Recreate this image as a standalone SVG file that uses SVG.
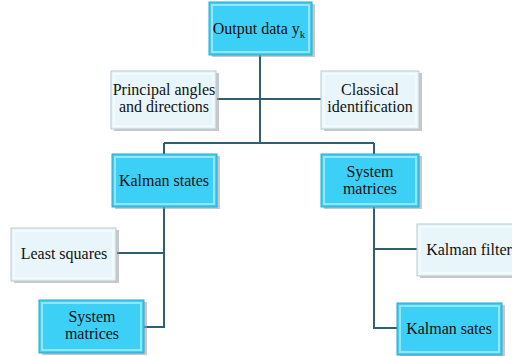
<svg xmlns="http://www.w3.org/2000/svg" width="512" height="356" viewBox="0 0 512 356">
<style>
.dark{fill:#3dd0f7;stroke:#2aa5cc;stroke-width:1}
.light{fill:#e8f6fb;stroke:#b9c9cf;stroke-width:1}
.bev{fill:none;stroke:#ffffff;stroke-opacity:0.45;stroke-width:2}
.sh{fill:#9a9a9a;opacity:0.55}
.t{font-family:'Liberation Serif',serif;font-size:16px;fill:#111;text-anchor:middle}
.conn{fill:none;stroke:#2f5f70;stroke-width:2}
</style>
<g id="connectors">
<path class="conn" d="M260 55V143M217 99H322M164 143H374M164 143V154M374 143V154M164 207V327H144M164 253H117M374 207V328H397M374 249H417"/>
</g>
<g id="n-output"><rect class="sh" x="212" y="4" width="103" height="53"/><rect class="dark" x="209" y="2" width="103" height="53"/><rect class="bev" x="212" y="5" width="97" height="47"/><text class="t" font-family="Liberation Serif" x="259" y="34">Output data y<tspan font-size="11" dy="4">k</tspan></text></g>
<g id="n-principal"><rect class="sh" x="114" y="73" width="105" height="58"/><rect class="light" x="111" y="71" width="105" height="58"/><rect class="bev" x="114" y="74" width="99" height="52"/><text class="t" font-family="Liberation Serif" x="164" y="95">Principal angles</text><text class="t" font-family="Liberation Serif" x="164" y="112">and directions</text></g>
<g id="n-classical"><rect class="sh" x="324" y="73" width="98" height="58"/><rect class="light" x="321" y="71" width="98" height="58"/><rect class="bev" x="324" y="74" width="92" height="52"/><text class="t" font-family="Liberation Serif" x="370" y="95">Classical</text><text class="t" font-family="Liberation Serif" x="370" y="112">identification</text></g>
<g id="n-kstates"><rect class="sh" x="115" y="156" width="105" height="53"/><rect class="dark" x="112" y="154" width="105" height="53"/><rect class="bev" x="115" y="157" width="99" height="47"/><text class="t" font-family="Liberation Serif" x="164" y="186">Kalman states</text></g>
<g id="n-sysmat1"><rect class="sh" x="324" y="156" width="98" height="53"/><rect class="dark" x="321" y="154" width="98" height="53"/><rect class="bev" x="324" y="157" width="92" height="47"/><text class="t" font-family="Liberation Serif" x="370" y="177">System</text><text class="t" font-family="Liberation Serif" x="370" y="194">matrices</text></g>
<g id="n-lsq"><rect class="sh" x="14" y="230" width="105" height="53"/><rect class="light" x="11" y="228" width="105" height="53"/><rect class="bev" x="14" y="231" width="99" height="47"/><text class="t" font-family="Liberation Serif" x="64" y="259">Least squares</text></g>
<g id="n-sysmat2"><rect class="sh" x="42" y="302" width="105" height="53"/><rect class="dark" x="39" y="300" width="105" height="53"/><rect class="bev" x="42" y="303" width="99" height="47"/><text class="t" font-family="Liberation Serif" x="92" y="322">System</text><text class="t" font-family="Liberation Serif" x="92" y="339">matrices</text></g>
<g id="n-kfilter"><rect class="sh" x="420" y="226" width="105" height="52"/><rect class="light" x="417" y="224" width="105" height="52"/><rect class="bev" x="420" y="227" width="99" height="46"/><text class="t" font-family="Liberation Serif" x="469" y="255">Kalman filter</text></g>
<g id="n-ksates"><rect class="sh" x="400" y="305" width="105" height="52"/><rect class="dark" x="397" y="303" width="105" height="52"/><rect class="bev" x="400" y="306" width="99" height="46"/><text class="t" font-family="Liberation Serif" x="449" y="334">Kalman sates</text></g>
</svg>
